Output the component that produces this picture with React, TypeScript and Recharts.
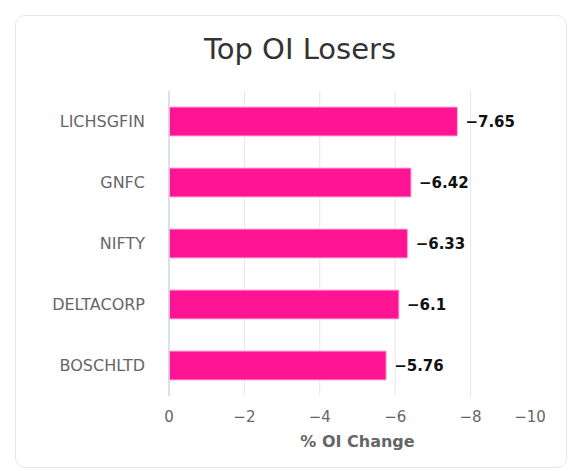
import React from 'react';
import { BarChart, Bar, XAxis, YAxis, CartesianGrid, LabelList } from 'recharts';

const symbols = ['LICHSGFIN', 'GNFC', 'NIFTY', 'DELTACORP', 'BOSCHLTD'];
const oiChange = [-7.65, -6.42, -6.33, -6.1, -5.76];
const xTicks = [0, -2, -4, -6, -8, -10];

const data = symbols.map((s, i) => ({ name: s, value: oiChange[i] }));

const FONT = '"DejaVu Sans", Verdana, sans-serif';
const fmt = (v: number) => (v < 0 ? '\u2212' + String(Math.abs(v)) : String(v));

const XTick = (props: any) => {
  const { x, y, payload } = props;
  const v = payload.value;
  const dx = v === -10 ? -16 : 0;
  return (
    <text x={x + dx} y={y + 26} textAnchor="middle" fill="#666" fontSize={15} fontFamily={FONT}>
      {fmt(v)}
    </text>
  );
};

const YTick = (props: any) => {
  const { x, y, payload } = props;
  return (
    <text x={x} y={y} dy="0.36em" textAnchor="end" fill="#666" fontSize={16} fontFamily={FONT}>
      {payload.value}
    </text>
  );
};

const ValueLabel = (props: any) => {
  const { x, y, width, height, value } = props;
  const right = Math.max(x, x + width);
  return (
    <text
      x={right + 8}
      y={y + height / 2}
      dy="0.36em"
      textAnchor="start"
      fill="#111"
      stroke="#fff"
      strokeWidth={2}
      paintOrder="stroke"
      fontSize={15}
      fontWeight="bold"
      fontFamily={FONT}
    >
      {fmt(value)}
    </text>
  );
};

// Draw grid lines for interior ticks only (no line at 0 or at -10)
const GridLine = (props: any) => {
  const { x1, y1, x2, y2, index } = props;
  if (index === 0 || index === xTicks.length - 1) return <g />;
  return <line x1={x1} y1={y1} x2={x2} y2={y2} stroke="#e6e6e6" strokeWidth={1} fill="none" />;
};

export default function App() {
  return (
    <div style={{ position: 'absolute', left: 0, top: 0, width: 579, height: 471, background: '#fff' }}>
      <div
        style={{
          position: 'absolute',
          left: 15,
          top: 15,
          width: 550,
          height: 451,
          border: '1px solid #e6e6e6',
          borderRadius: 10,
          background: '#fff',
        }}
      />
      <div
        style={{
          position: 'absolute',
          left: 0,
          top: 32,
          width: 600,
          textAlign: 'center',
          fontFamily: FONT,
          fontSize: 29,
          lineHeight: 'normal',
          color: '#333',
        }}
      >
        Top OI Losers
      </div>
      <div style={{ position: 'absolute', left: 0, top: 0 }}>
        <BarChart
          width={579}
          height={471}
          data={data}
          layout="vertical"
          margin={{ top: 91, right: 33, left: 0, bottom: 15 }}
          barSize={29}
        >
          <CartesianGrid horizontal={false} vertical={(p: any) => <GridLine {...p} />} />
          <XAxis
            type="number"
            domain={[-10, 0]}
            reversed
            ticks={xTicks}
            interval={0}
            axisLine={false}
            tickLine={false}
            tickSize={0}
            tickMargin={0}
            height={60}
            tick={<XTick />}
            label={{
              value: '% OI Change',
              position: 'insideBottom',
              offset: 9,
              fill: '#666',
              fontSize: 16,
              fontWeight: 'bold',
              fontFamily: FONT,
            }}
          />
          <YAxis
            type="category"
            dataKey="name"
            width={169}
            axisLine={{ stroke: '#ccd6eb', strokeWidth: 1.5 }}
            tickLine={false}
            tickSize={0}
            tickMargin={24}
            tick={<YTick />}
          />
          <Bar dataKey="value" fill="#ff1493" stroke="#ffb3d9" strokeWidth={1} isAnimationActive={false}>
            <LabelList dataKey="value" content={<ValueLabel />} />
          </Bar>
        </BarChart>
      </div>
    </div>
  );
}
